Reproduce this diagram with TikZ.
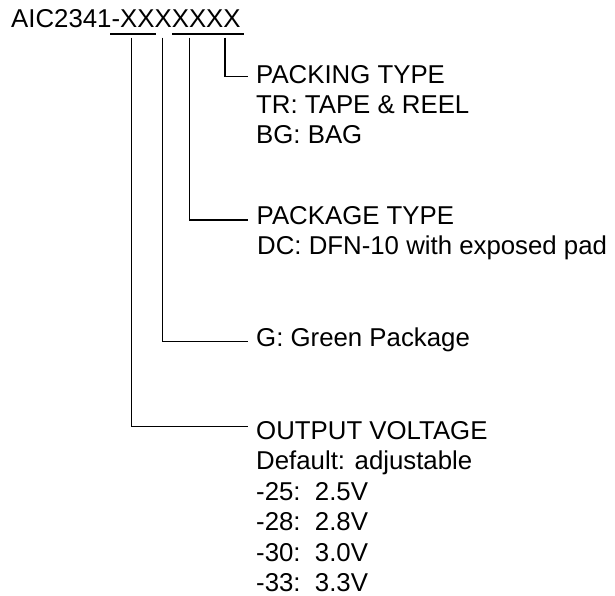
\documentclass[tikz,border=0pt]{standalone}
\usepackage{fontspec}
\setmainfont{Liberation Sans}
\begin{document}
\begin{tikzpicture}[x=1pt,y=-1pt,
  lbl/.style={anchor=base west, inner sep=0pt, font=\fontsize{25.8}{30}\selectfont},
  wire/.style={line width=1.5pt}]
\useasboundingbox (0,0) rectangle (615,596);
% title
\node[lbl] (title) at (11,28) {AIC2341-XXXXXXX};
% underlines
\coordinate (u1a) at (110,34);
\coordinate (u1b) at (155.5,34);
\coordinate (u2a) at (172,34);
\coordinate (u2b) at (244,34);
\draw[wire] (u1a) -- (u1b);
\draw[wire] (u2a) -- (u2b);
% text blocks
\node[lbl] (pk1) at (256,83.3) {PACKING TYPE};
\node[lbl] (pk2) at (256,113.3) {TR: TAPE \& REEL};
\node[lbl] (pk3) at (256,143.3) {BG: BAG};
\node[lbl] (pg1) at (256.5,224.3) {PACKAGE TYPE};
\node[lbl] (pg2) at (257,254.3) {DC: DFN-10 with exposed pad};
\node[lbl] (gr) at (256,346.7) {G: Green Package};
\node[lbl] (ov1) at (256,439) {OUTPUT VOLTAGE};
\node[lbl] (ov2) at (256,469.5) {Default: adjustable};
\node[lbl] (ov3) at (256,500) {-25:\ \ 2.5V};
\node[lbl] (ov4) at (256,530.5) {-28:\ \ 2.8V};
\node[lbl] (ov5) at (256,561) {-30:\ \ 3.0V};
\node[lbl] (ov6) at (256,591.5) {-33:\ \ 3.3V};
% connector taps and ends
\coordinate (tPk) at (225,37.7);
\coordinate (ePk) at (247.5,76.7);
\coordinate (tPg) at (189.5,37.7);
\coordinate (ePg) at (247.5,220);
\coordinate (tGr) at (162.5,37.7);
\coordinate (eGr) at (247.5,341.7);
\coordinate (tOv) at (131.5,37.7);
\coordinate (eOv) at (247.5,426.7);
\draw[wire] (tPk) |- (ePk);
\draw[wire] (tPg) |- (ePg);
\draw[wire] (tGr) |- (eGr);
\draw[wire] (tOv) |- (eOv);
\end{tikzpicture}
\end{document}
